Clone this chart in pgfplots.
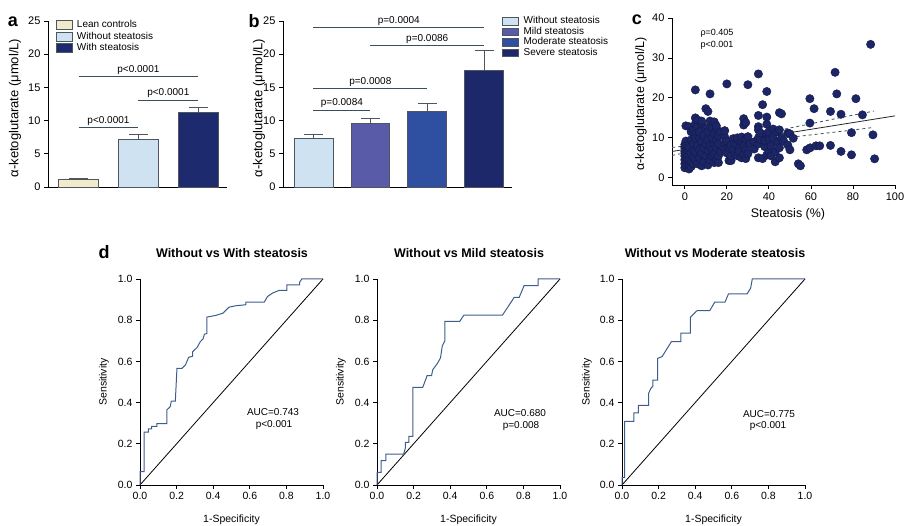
\documentclass[border=0pt]{standalone}
\usepackage{fontspec}
\setmainfont{Liberation Sans}
\usepackage{pgfplots}
\pgfplotsset{compat=1.18}

\definecolor{lean}{HTML}{F1EBCB}
\definecolor{without}{HTML}{CFE2F2}
\definecolor{withst}{HTML}{1E2A6E}
\definecolor{mild}{HTML}{5A5BA8}
\definecolor{moderate}{HTML}{2F4FA0}
\definecolor{severe}{HTML}{1C286A}
\definecolor{barline}{HTML}{4D5660}
\definecolor{sigline}{HTML}{3A4F5C}
\definecolor{dot}{HTML}{1C2566}
\definecolor{roc}{HTML}{3F5D8A}

\newcommand{\fs}[1]{\fontsize{#1}{#1}\selectfont}

\pgfplotsset{
  prism/.style={
    scale only axis,
    axis lines*=left,
    axis line style={line width=0.9pt, black},
    tick style={line width=0.8pt, black},
    tick align=outside,
    major tick length=4pt,
    tick label style={font=\fs{10.5}},
    /pgf/number format/assume math mode=true,
    clip=false,
  },
  rocax/.style={
    prism, anchor=south west, width=183pt, height=206pt,
    xmin=0, xmax=1, ymin=0, ymax=1,
    tick label style={font=\fs{10.5}},
    xtick={0,0.2,0.4,0.6,0.8,1}, ytick={0,0.2,0.4,0.6,0.8,1},
    xticklabel style={/pgf/number format/.cd, fixed, fixed zerofill, precision=1},
    yticklabel style={/pgf/number format/.cd, fixed, fixed zerofill, precision=1},
  },
  barerr/.style={error bars/.cd, y dir=plus, y explicit,
    error bar style={line width=0.8pt, color=barline},
    error mark options={rotate=90, mark size=9.5pt, line width=0.8pt, color=barline}},
}

\begin{document}
\begin{tikzpicture}
\useasboundingbox (0pt,0pt) rectangle (906pt,526pt);

% ---------------- panel a ----------------
\begin{axis}[prism, at={(48pt,339pt)}, anchor=south west, width=179pt, height=166pt,
  tick label style={font=\fs{11}},
  xmin=0.49, xmax=3.48, ymin=0, ymax=25, ytick={0,5,10,15,20,25}, xtick=\empty,
  legend style={at={(0.045,1.0105)}, anchor=north west, draw=none, fill=none,
    font=\fs{10}, row sep=0pt, inner sep=0pt,
    nodes={inner sep=1pt, text height=7.5pt, text depth=2pt},
    /tikz/every odd column/.append style={column sep=3pt}, cells={anchor=west}},
  legend image code/.code={\draw[#1, line width=0.7pt] (0pt,-4.5pt) rectangle (16pt,4.5pt);},
]
\addplot[ybar, bar width=0.67, bar shift=0pt, fill=lean, draw=barline, line width=0.7pt, barerr]
  coordinates {(1,1.1) +- (0,0.12)};
\addlegendentry{Lean controls}
\addplot[ybar, bar width=0.67, bar shift=0pt, fill=without, draw=barline, line width=0.7pt, barerr]
  coordinates {(2,7.2) +- (0,0.7)};
\addlegendentry{Without steatosis}
\addplot[ybar, bar width=0.67, bar shift=0pt, fill=withst, draw=barline, line width=0.7pt, barerr]
  coordinates {(3,11.3) +- (0,0.7)};
\addlegendentry{With steatosis}
\draw[sigline, line width=0.9pt] (axis cs:1,16.7) -- node[above, black, font=\fs{10}, inner sep=1.5pt] {p<0.0001} (axis cs:3,16.7);
\draw[sigline, line width=0.9pt] (axis cs:2,13.1) -- node[above, black, font=\fs{10}, inner sep=1.5pt] {p<0.0001} (axis cs:3,13.1);
\draw[sigline, line width=0.9pt] (axis cs:1,8.9) -- node[above, black, font=\fs{10}, inner sep=1.5pt] {p<0.0001} (axis cs:2,8.9);
\end{axis}

% ---------------- panel b ----------------
\begin{axis}[prism, at={(283pt,339pt)}, anchor=south west, width=229pt, height=166pt,
  tick label style={font=\fs{11}},
  xmin=0.465, xmax=4.49, ymin=0, ymax=25, ytick={0,5,10,15,20,25}, xtick=\empty,
  legend style={at={(0.956,1.032)}, anchor=north west, draw=none, fill=none,
    font=\fs{10}, row sep=0pt, inner sep=0pt,
    nodes={inner sep=0.8pt, text height=7pt, text depth=2pt},
    /tikz/every odd column/.append style={column sep=4pt}, cells={anchor=west}},
  legend image code/.code={\draw[#1, line width=0.7pt] (0pt,-3.7pt) rectangle (16pt,3.7pt);},
]
\addplot[ybar, bar width=0.684, bar shift=0pt, fill=without, draw=barline, line width=0.7pt, barerr]
  coordinates {(1,7.3) +- (0,0.6)};
\addlegendentry{Without steatosis}
\addplot[ybar, bar width=0.684, bar shift=0pt, fill=mild, draw=barline, line width=0.7pt, barerr]
  coordinates {(2,9.6) +- (0,0.8)};
\addlegendentry{Mild steatosis}
\addplot[ybar, bar width=0.684, bar shift=0pt, fill=moderate, draw=barline, line width=0.7pt, barerr]
  coordinates {(3,11.4) +- (0,1.2)};
\addlegendentry{Moderate steatosis}
\addplot[ybar, bar width=0.684, bar shift=0pt, fill=severe, draw=barline, line width=0.7pt, barerr]
  coordinates {(4,17.6) +- (0,2.9)};
\addlegendentry{Severe steatosis}
\draw[sigline, line width=0.9pt] (axis cs:1,24.0) -- node[above, black, font=\fs{10}, inner sep=1.5pt] {p=0.0004} (axis cs:4,24.0);
\draw[sigline, line width=0.9pt] (axis cs:2,21.3) -- node[above, black, font=\fs{10}, inner sep=1.5pt] {p=0.0086} (axis cs:4,21.3);
\draw[sigline, line width=0.9pt] (axis cs:1,14.9) -- node[above, black, font=\fs{10}, inner sep=1.5pt] {p=0.0008} (axis cs:3,14.9);
\draw[sigline, line width=0.9pt] (axis cs:1,11.6) -- node[above, black, font=\fs{10}, inner sep=1.5pt] {p=0.0084} (axis cs:2,11.6);
\end{axis}

% ---------------- panel c ----------------
\begin{axis}[prism, at={(672pt,341pt)}, anchor=south west, width=223pt, height=167pt,
  tick label style={font=\fs{11}},
  xmin=-6.1, xmax=100, ymin=-1.8, ymax=40,
  xtick={0,20,40,60,80,100}, ytick={0,10,20,30,40}]
\addplot[only marks, mark=*, mark size=4.2pt, mark options={fill=dot, draw=dot!70!black, line width=0.4pt}]
  table[row sep=\\] {
x y \\
0 2.5 \\ 0 3.5 \\ 0 4.5 \\ 0 5.5 \\ 0 6.5 \\ 0 7.5 \\ 0 8.3 \\ 0.5 13 \\ 0.5 9.2 \\
1 3 \\ 1 4 \\ 1 5 \\ 1 6 \\ 1 7 \\ 1 8 \\
2 2.2 \\ 2 3.2 \\ 2 4.5 \\ 2 5.8 \\ 2 6.8 \\ 2 7.6 \\ 2 12.8 \\
3 2.8 \\ 3 4 \\ 3 6.2 \\ 3 9.5 \\ 3 11.5 \\
4 3.5 \\ 4 5 \\ 4 7 \\ 4 8.5 \\ 4 12 \\
5 22 \\ 5 15 \\ 5 13.5 \\ 5 11 \\ 5 4.5 \\ 5 6.5 \\ 5 9.8 \\
6 3.5 \\ 6 8 \\ 6 12.8 \\ 6 14.5 \\
7 5 \\ 7 7 \\ 7 10 \\ 7 11.5 \\
8 3 \\ 8 6 \\ 8 9 \\ 8 13.5 \\ 8 14.2 \\
9 4 \\ 9 7.5 \\ 9 10.5 \\
10 5.5 \\ 10 8.5 \\ 10 12.5 \\ 10 17.3 \\
11 3.2 \\ 11 6.8 \\ 11 9.5 \\ 11 11.5 \\ 11 16.6 \\
12 4.5 \\ 12 8 \\ 12 14.2 \\ 12 21 \\
13 5.5 \\ 13 7 \\ 13 10 \\ 13 12.5 \\
14 3.8 \\ 14 6 \\ 14 8.5 \\ 14 11 \\ 14 14 \\
15 4.5 \\ 15 7.5 \\ 15 9.5 \\ 15 12.3 \\ 15 13 \\
16 3.8 \\ 16 5.5 \\ 16 8.5 \\ 16 10.5 \\
17 6.5 \\ 17 11.5 \\
19 8.5 \\ 19 10.2 \\ 19 11.8 \\ 19 7 \\
20 23.5 \\ 20 6.2 \\ 20 9.2 \\
21 4.3 \\ 21 7.5 \\
22 4.3 \\ 22 8.2 \\ 22 5.5 \\
23 7 \\ 23 9.8 \\
24 6 \\ 24 8.5 \\
25 9.5 \\ 25 5.5 \\ 25 10 \\
26 7.5 \\ 26 6.5 \\
27 9.2 \\ 27 5 \\ 27 10.2 \\
28 5.8 \\ 28 8 \\ 28 13.2 \\ 28 14.8 \\
29 4.8 \\ 29 7 \\ 29 9.7 \\ 29 13.8 \\
30 23.3 \\ 30 10.3 \\ 30 6 \\
31 8.5 \\
33 9 \\ 33 7.2 \\
35 26 \\ 35 15.6 \\ 35 12.8 \\ 35 12 \\ 35 8.5 \\ 35 5 \\ 35 10 \\
36 9.6 \\ 36 11.2 \\
37 18.3 \\ 37 4.8 \\
38 7.8 \\ 38 9.3 \\
39 21.6 \\ 39 15.2 \\ 39 13.4 \\ 39 11 \\ 39 5.7 \\
40 10.5 \\ 40 9.4 \\ 40 6.5 \\ 40 11.5 \\
41 8 \\ 41 5.5 \\
42 10 \\ 42 12.2 \\
43 4 \\ 43 6.5 \\
44 8.8 \\ 44 11.5 \\
45 16.3 \\ 45 12 \\ 45 7.5 \\ 45 5 \\
46 16 \\ 46 10 \\
47 9.2 \\
49 11.2 \\ 49 8.2 \\ 50 7 \\ 50 11 \\ 51.6 9.9 \\ 54 3.5 \\ 55 3 \\
58 7 \\ 59.5 19.8 \\ 61.5 17.3 \\ 59.5 13.7 \\ 59.6 7.5 \\ 62.4 8.0 \\ 64.2 8.0 \\
69.3 16.6 \\ 69.3 8.1 \\ 71.5 26.4 \\ 72.3 21.0 \\ 74.3 15.9 \\ 74.3 6.6 \\
79.3 11.3 \\ 79.3 5.75 \\ 81.4 19.8 \\ 84.5 15.75 \\ 88.4 33.4 \\ 89.5 10.75 \\ 90.3 4.75 \\
};
% regression line and 95% confidence band
\addplot[black!85, line width=0.8pt] coordinates {(-6,6.6) (100,15.5)};
\addplot[sigline, line width=0.8pt, dashed] coordinates {(-6,7.6) (0,7.95) (10,8.64) (20,9.43) (30,10.37) (45,11.93) (60,13.54) (75,15.15) (90,16.71)};
\addplot[sigline, line width=0.8pt, dashed] coordinates {(-6,5.6) (0,6.25) (10,7.24) (20,8.13) (30,8.87) (45,9.83) (60,10.74) (75,11.65) (90,12.61)};
\end{axis}

% ---------------- panel d: ROC curves ----------------
\begin{axis}[rocax, at={(140pt,41pt)}]
\addplot[black, line width=0.8pt] coordinates {(0,0) (1,1)};
\addplot[roc, line width=1pt] coordinates {
(0,0) (0,0.065) (0.022,0.065) (0.022,0.257) (0.046,0.257) (0.046,0.272) (0.064,0.272)
(0.064,0.285) (0.092,0.285) (0.092,0.298) (0.147,0.298) (0.147,0.365) (0.165,0.380)
(0.171,0.407) (0.193,0.407) (0.202,0.566) (0.229,0.566) (0.248,0.582) (0.266,0.62)
(0.288,0.625) (0.288,0.647) (0.312,0.668) (0.330,0.696) (0.345,0.71) (0.352,0.732)
(0.365,0.735) (0.365,0.815) (0.413,0.823) (0.453,0.834) (0.486,0.863) (0.523,0.870)
(0.578,0.875) (0.578,0.888) (0.679,0.888) (0.697,0.915) (0.725,0.932) (0.761,0.945)
(0.802,0.945) (0.802,0.972) (0.872,0.972) (0.872,0.984) (0.884,1) (1,1)};
\end{axis}

\begin{axis}[rocax, at={(377pt,41pt)}]
\addplot[black, line width=0.8pt] coordinates {(0,0) (1,1)};
\addplot[roc, line width=1pt] coordinates {
(0,0) (0,0.061) (0.022,0.061) (0.022,0.118) (0.049,0.118) (0.049,0.150) (0.146,0.150)
(0.155,0.180) (0.155,0.207) (0.174,0.207) (0.174,0.236) (0.196,0.236) (0.196,0.474)
(0.250,0.474) (0.274,0.531) (0.298,0.531) (0.305,0.560) (0.330,0.590) (0.347,0.617)
(0.357,0.676) (0.371,0.70) (0.371,0.794) (0.452,0.794) (0.475,0.825) (0.686,0.825)
(0.750,0.911) (0.777,0.911) (0.804,0.968) (0.881,0.968) (0.881,1) (1,1)};
\end{axis}

\begin{axis}[rocax, at={(622pt,41pt)}]
\addplot[black, line width=0.8pt] coordinates {(0,0) (1,1)};
\addplot[roc, line width=1pt] coordinates {
(0,0) (0,0.037) (0.015,0.037) (0.015,0.309) (0.065,0.309) (0.065,0.350) (0.089,0.350)
(0.089,0.387) (0.145,0.387) (0.145,0.445) (0.160,0.472) (0.169,0.480) (0.169,0.509)
(0.195,0.509) (0.195,0.615) (0.219,0.623) (0.270,0.696) (0.322,0.696) (0.322,0.737)
(0.374,0.737) (0.374,0.815) (0.411,0.847) (0.480,0.847) (0.507,0.888) (0.563,0.888)
(0.582,0.928) (0.684,0.928) (0.703,0.956) (0.712,1) (1,1)};
\end{axis}

% ---------------- labels ----------------
\node[font=\bfseries\fs{18}] at (13pt,504pt) {a};
\node[font=\bfseries\fs{18}] at (254pt,505pt) {b};
\node[font=\bfseries\fs{18}] at (637pt,506pt) {c};
\node[font=\bfseries\fs{18}] at (104pt,274pt) {d};

\node[rotate=90, font=\fs{13}] at (15pt,418pt) {α-ketoglutarate (μmol/L)};
\node[rotate=90, font=\fs{13}] at (259pt,418pt) {α-ketoglutarate (μmol/L)};
\node[rotate=90, font=\fs{12.5}] at (641pt,422pt) {α-ketoglutarate (μmol/L)};
\node[font=\fs{12.5}] at (788pt,312pt) {Steatosis (\%)};
\node[anchor=west, font=\fs{9}] at (697pt,492.5pt) {ρ=0.405};
\node[anchor=west, font=\fs{9}] at (697pt,480.5pt) {p<0.001};

\node[font=\bfseries\fs{12.5}] at (232pt,273pt) {Without vs With steatosis};
\node[font=\bfseries\fs{12.5}] at (469pt,273pt) {Without vs Mild steatosis};
\node[font=\bfseries\fs{12.5}] at (715pt,273pt) {Without vs Moderate steatosis};

\node[rotate=90, font=\fs{10.5}] at (104pt,144pt) {Sensitivity};
\node[rotate=90, font=\fs{10.5}] at (341pt,144pt) {Sensitivity};
\node[rotate=90, font=\fs{10.5}] at (587pt,144pt) {Sensitivity};
\node[font=\fs{10.5}] at (231.5pt,6pt) {1-Specificity};
\node[font=\fs{10.5}] at (468.5pt,6pt) {1-Specificity};
\node[font=\fs{10.5}] at (713.5pt,6pt) {1-Specificity};

\node[font=\fs{10}] at (273pt,114pt) {AUC=0.743};
\node[font=\fs{10}] at (274pt,101pt) {p<0.001};
\node[font=\fs{10}] at (520pt,113pt) {AUC=0.680};
\node[font=\fs{10}] at (521pt,100pt) {p=0.008};
\node[font=\fs{10}] at (769pt,112pt) {AUC=0.775};
\node[font=\fs{10}] at (768pt,100pt) {p<0.001};
\end{tikzpicture}
\end{document}
